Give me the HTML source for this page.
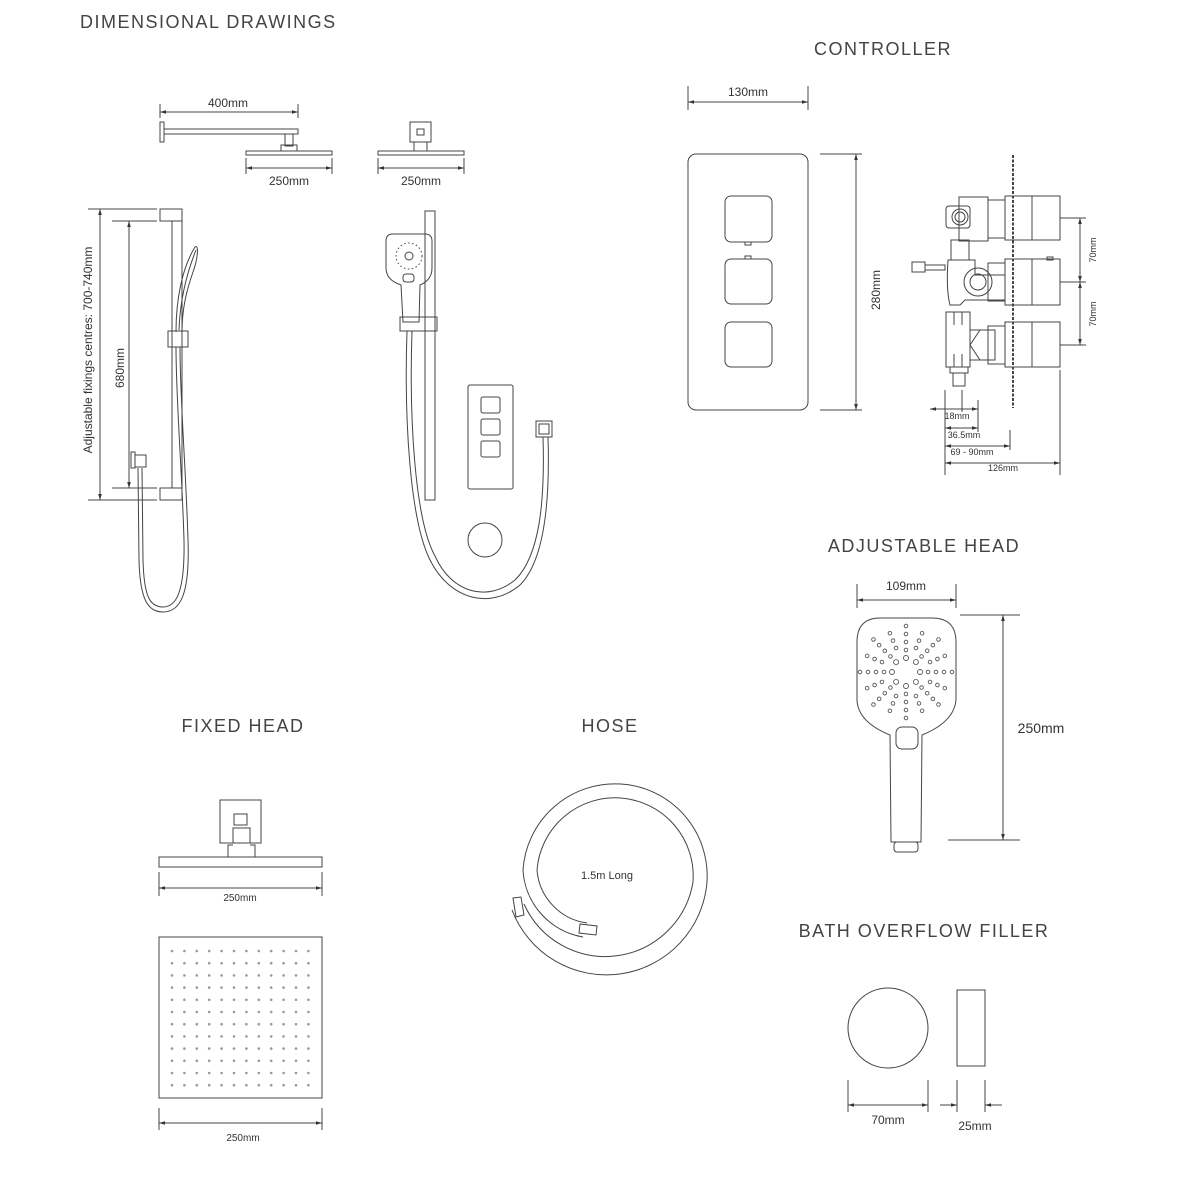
<!DOCTYPE html>
<html><head><meta charset="utf-8"><style>
html,body{margin:0;padding:0;background:#fff}
svg{display:block}
text{font-family:"Liberation Sans",sans-serif;fill:#333}
.t{font-size:18px;letter-spacing:1.5px;fill:#444}
.d{font-size:12px}
.s{font-size:10px}
</style></head><body>
<svg width="1200" height="1200" viewBox="0 0 1200 1200" xmlns="http://www.w3.org/2000/svg">
<defs>
<marker id="a" viewBox="0 0 10 10" refX="10" refY="5" markerWidth="6" markerHeight="6" orient="auto-start-reverse"><path d="M0,2 L10,5 L0,8z" fill="#333"/></marker>
<g id="row">
<circle cx="172" cy="0" r="1.3"/><circle cx="184.4" cy="0" r="1.3"/><circle cx="196.8" cy="0" r="1.3"/><circle cx="209.2" cy="0" r="1.3"/><circle cx="221.6" cy="0" r="1.3"/><circle cx="234" cy="0" r="1.3"/><circle cx="246.4" cy="0" r="1.3"/><circle cx="258.8" cy="0" r="1.3"/><circle cx="271.2" cy="0" r="1.3"/><circle cx="283.6" cy="0" r="1.3"/><circle cx="296" cy="0" r="1.3"/><circle cx="308.4" cy="0" r="1.3"/>
</g>
<g id="spoke"><circle cx="0" cy="-14" r="2.5"/><circle cx="0" cy="-22" r="1.8"/><circle cx="0" cy="-30" r="1.8"/><circle cx="0" cy="-38" r="1.8"/><circle cx="0" cy="-46" r="1.8"/></g>
<g id="sp2"><circle cx="0" cy="-26" r="1.8"/><circle cx="0" cy="-34" r="1.8"/><circle cx="0" cy="-42" r="1.8"/></g>
</defs>
<g fill="none" stroke="#444" stroke-width="1">
<line x1="160" y1="112" x2="298" y2="112" marker-start="url(#a)" marker-end="url(#a)"/>
<line x1="160" y1="104" x2="160" y2="118"/><line x1="298" y1="104" x2="298" y2="118"/>
<rect x="160" y="122" width="4" height="20"/>
<rect x="164" y="129" width="134" height="5"/>
<rect x="285" y="134" width="8" height="12"/>
<rect x="281" y="145" width="16" height="6"/>
<rect x="246" y="151" width="86" height="4"/>
<line x1="246" y1="168" x2="332" y2="168" marker-start="url(#a)" marker-end="url(#a)"/>
<line x1="246" y1="158" x2="246" y2="174"/><line x1="332" y1="158" x2="332" y2="174"/>
<rect x="410" y="122" width="21" height="20"/>
<rect x="417" y="129" width="7" height="6"/>
<rect x="414" y="142" width="13" height="9"/>
<rect x="378" y="151" width="86" height="4"/>
<line x1="378" y1="168" x2="464" y2="168" marker-start="url(#a)" marker-end="url(#a)"/>
<line x1="378" y1="158" x2="378" y2="174"/><line x1="464" y1="158" x2="464" y2="174"/>
<line x1="88" y1="209" x2="157" y2="209"/><line x1="112" y1="221" x2="157" y2="221"/>
<line x1="112" y1="488" x2="157" y2="488"/><line x1="88" y1="500" x2="157" y2="500"/>
<line x1="100" y1="209" x2="100" y2="500" marker-start="url(#a)" marker-end="url(#a)"/>
<line x1="129" y1="221" x2="129" y2="488" marker-start="url(#a)" marker-end="url(#a)"/>
<rect x="160" y="209" width="22" height="12"/>
<rect x="172" y="221" width="10" height="267"/>
<rect x="160" y="488" width="22" height="12"/>
<path d="M176,332 C176,300 182,268 195,247 C199,244 198,258 193,272 C186,292 182,310 182,332"/>
<path d="M179,330 C180,300 186,275 196,250"/>
<rect x="168" y="331" width="20" height="16"/>
<rect x="131" y="452" width="4" height="16"/><rect x="135" y="455" width="11" height="12"/>
<path d="M138,468 L139,560 C140,600 148,612 163,612 C180,612 190,595 188,540 C186,470 180,400 180,347"/>
<path d="M142,468 L143,560 C144,597 150,607 163,607 C176,607 185,593 184,540 C182,470 176,400 176,347"/>
<rect x="425" y="211" width="10" height="289"/>
<path d="M393,234 L425,234 Q432,234 432,241 L432,268 Q432,280 420,285 L419,322 L403,322 L401,285 Q386,280 386,268 L386,241 Q386,234 393,234z"/>
<circle cx="409" cy="256" r="13" stroke-dasharray="1.5 2.5"/>
<circle cx="409" cy="256" r="4"/>
<rect x="403" y="274" width="11" height="8" rx="3"/>
<rect x="400" y="317" width="37" height="14"/>
<path d="M407,331 C404,420 410,520 430,560 C450,600 490,610 520,585 C545,560 550,500 548,437"/>
<path d="M412,331 C409,420 415,520 435,556 C452,594 488,602 515,580 C540,556 545,500 543,437"/>
<rect x="536" y="421" width="16" height="16"/><rect x="539" y="424" width="10" height="10"/>
<rect x="468" y="385" width="45" height="104" rx="2"/>
<rect x="481" y="397" width="19" height="16" rx="2"/>
<rect x="481" y="419" width="19" height="16" rx="2"/>
<rect x="481" y="441" width="19" height="16" rx="2"/>
<circle cx="485" cy="540" r="17"/>
<line x1="688" y1="102" x2="808" y2="102" marker-start="url(#a)" marker-end="url(#a)"/>
<line x1="688" y1="86" x2="688" y2="110"/><line x1="808" y1="86" x2="808" y2="110"/>
<rect x="688" y="154" width="120" height="256" rx="8"/>
<rect x="725" y="196" width="47" height="46" rx="6"/>
<rect x="725" y="259" width="47" height="45" rx="6"/>
<rect x="725" y="322" width="47" height="45" rx="6"/>
<rect x="745" y="242" width="6" height="3"/><rect x="745" y="256" width="6" height="3"/>
<line x1="820" y1="154" x2="862" y2="154"/><line x1="820" y1="410" x2="862" y2="410"/>
<line x1="856" y1="154" x2="856" y2="410" marker-start="url(#a)" marker-end="url(#a)"/>
<line x1="1013" y1="155" x2="1013" y2="408" stroke-dasharray="3 1.5" stroke-width="2"/>
<rect x="1005" y="196" width="55" height="44"/><line x1="1032" y1="196" x2="1032" y2="240"/>
<rect x="1005" y="259" width="55" height="46"/><line x1="1032" y1="259" x2="1032" y2="305"/>
<rect x="1005" y="322" width="55" height="45"/><line x1="1032" y1="322" x2="1032" y2="367"/>
<rect x="1047" y="257" width="6" height="3"/>
<rect x="988" y="200" width="17" height="38"/><rect x="988" y="263" width="17" height="38"/><rect x="988" y="326" width="17" height="38"/>
<rect x="959" y="197" width="29" height="44"/>
<rect x="946" y="206" width="24" height="22" rx="3"/><circle cx="960" cy="217" r="8"/><circle cx="960" cy="217" r="5"/>
<rect x="951" y="240" width="18" height="20"/>
<path d="M948,260 L975,260 L975,275 L1005,275 L1005,300 L975,300 L965,300 L960,305 L950,305 Q946,290 948,260z"/>
<circle cx="978" cy="282" r="14"/><circle cx="978" cy="282" r="8"/>
<path d="M912,262 L925,262 L925,272 L912,272z M925,265 L945,265 L945,270 L925,270"/>
<rect x="946" y="312" width="24" height="55"/>
<line x1="954" y1="312" x2="954" y2="325"/><line x1="962" y1="312" x2="962" y2="325"/>
<line x1="954" y1="354" x2="954" y2="367"/><line x1="962" y1="354" x2="962" y2="367"/>
<path d="M970,330 L980,330 L970,345 L980,360 L970,360 M980,330 L995,330 L995,360 L980,360"/>
<rect x="950" y="367" width="18" height="6"/><rect x="953" y="373" width="12" height="13"/>
<line x1="1060" y1="218" x2="1086" y2="218"/><line x1="1060" y1="282" x2="1086" y2="282"/><line x1="1060" y1="345" x2="1086" y2="345"/>
<line x1="1080" y1="218" x2="1080" y2="282" marker-start="url(#a)" marker-end="url(#a)"/>
<line x1="1080" y1="282" x2="1080" y2="345" marker-start="url(#a)" marker-end="url(#a)"/>
<line x1="930" y1="409" x2="978" y2="409" marker-start="url(#a)" marker-end="url(#a)"/>
<line x1="945" y1="428" x2="978" y2="428" marker-start="url(#a)" marker-end="url(#a)"/>
<line x1="945" y1="446" x2="1010" y2="446" marker-start="url(#a)" marker-end="url(#a)"/>
<line x1="945" y1="463" x2="1060" y2="463" marker-start="url(#a)" marker-end="url(#a)"/>
<line x1="945" y1="390" x2="945" y2="475"/><line x1="962" y1="390" x2="962" y2="412"/>
<line x1="978" y1="400" x2="978" y2="432"/><line x1="1010" y1="430" x2="1010" y2="450"/>
<line x1="1060" y1="370" x2="1060" y2="475"/>
<line x1="857" y1="600" x2="956" y2="600" marker-start="url(#a)" marker-end="url(#a)"/>
<line x1="857" y1="584" x2="857" y2="608"/><line x1="956" y1="584" x2="956" y2="608"/>
<line x1="960" y1="615" x2="1020" y2="615"/><line x1="948" y1="840" x2="1020" y2="840"/>
<line x1="1003" y1="615" x2="1003" y2="840" marker-start="url(#a)" marker-end="url(#a)"/>
<path d="M880,618 L932,618 Q956,618 956,642 L956,700 Q954,722 922,735 L921,842 L891,842 L890,735 Q858,722 857,700 L857,642 Q857,618 880,618z"/>
<rect x="896" y="727" width="22" height="22" rx="6"/>
<rect x="894" y="842" width="24" height="10" rx="3"/>
<rect x="220" y="800" width="41" height="43"/>
<rect x="234" y="814" width="13" height="11"/>
<rect x="233" y="828" width="17" height="15"/>
<path d="M228,857 L228,845 L233,845 M250,845 L255,845 L255,857"/>
<rect x="159" y="857" width="163" height="10"/>
<line x1="159" y1="872" x2="159" y2="896"/><line x1="322" y1="872" x2="322" y2="896"/>
<line x1="159" y1="888" x2="322" y2="888" marker-start="url(#a)" marker-end="url(#a)"/>
<rect x="159" y="937" width="163" height="161"/>
<line x1="159" y1="1108" x2="159" y2="1130"/><line x1="322" y1="1108" x2="322" y2="1130"/>
<line x1="159" y1="1123" x2="322" y2="1123" marker-start="url(#a)" marker-end="url(#a)"/>
<path d="M512,910 A101 101 0 0 0 707,882 A92 92 0 0 0 523,870 A72 72 0 0 0 583,937"/>
<path d="M524,904 A89 89 0 0 0 693,882 A78 78 0 0 0 537,870 A58 58 0 0 0 587,923"/>
<path d="M513,898 L521,897 L524,915 L516,917z"/>
<path d="M580,924 L597,926 L596,935 L579,933z"/>
<circle cx="888" cy="1028" r="40"/>
<rect x="957" y="990" width="28" height="76"/>
<line x1="848" y1="1080" x2="848" y2="1112"/><line x1="928" y1="1080" x2="928" y2="1112"/>
<line x1="848" y1="1105" x2="928" y2="1105" marker-start="url(#a)" marker-end="url(#a)"/>
<line x1="957" y1="1080" x2="957" y2="1112"/><line x1="985" y1="1080" x2="985" y2="1112"/>
<line x1="940" y1="1105" x2="957" y2="1105" marker-end="url(#a)"/>
<line x1="1002" y1="1105" x2="985" y2="1105" marker-end="url(#a)"/>
</g>
<text class="t" x="80" y="28">DIMENSIONAL DRAWINGS</text>
<text class="t" x="883" y="55" text-anchor="middle">CONTROLLER</text>
<text class="t" x="924" y="552" text-anchor="middle">ADJUSTABLE HEAD</text>
<text class="t" x="243" y="732" text-anchor="middle">FIXED HEAD</text>
<text class="t" x="610" y="732" text-anchor="middle">HOSE</text>
<text class="t" x="924" y="937" text-anchor="middle">BATH OVERFLOW FILLER</text>
<text class="d" x="228" y="107" text-anchor="middle">400mm</text>
<text class="d" x="289" y="185" text-anchor="middle">250mm</text>
<text class="d" x="421" y="185" text-anchor="middle">250mm</text>
<text class="d" transform="translate(92,350) rotate(-90)" text-anchor="middle">Adjustable fixings centres: 700-740mm</text>
<text class="d" transform="translate(124,368) rotate(-90)" text-anchor="middle">680mm</text>
<text class="d" x="748" y="96" text-anchor="middle">130mm</text>
<text class="d" transform="translate(880,290) rotate(-90)" text-anchor="middle">280mm</text>
<text class="s" transform="translate(1096,250) rotate(-90)" text-anchor="middle" style="font-size:9px">70mm</text>
<text class="s" transform="translate(1096,314) rotate(-90)" text-anchor="middle" style="font-size:9px">70mm</text>
<text class="s" x="957" y="419" text-anchor="middle" style="font-size:9px">18mm</text>
<text class="s" x="964" y="438" text-anchor="middle" style="font-size:9px">36.5mm</text>
<text class="s" x="972" y="455" text-anchor="middle" style="font-size:9px">69 - 90mm</text>
<text class="s" x="1003" y="471" text-anchor="middle" style="font-size:9px">126mm</text>
<text class="d" x="906" y="590" text-anchor="middle">109mm</text>
<text class="d" x="1041" y="733" text-anchor="middle" style="font-size:14px">250mm</text>
<text class="s" x="240" y="901" text-anchor="middle">250mm</text>
<text class="s" x="243" y="1141" text-anchor="middle">250mm</text>
<text class="s" x="607" y="879" text-anchor="middle" style="font-size:11px">1.5m Long</text>
<text class="d" x="888" y="1124" text-anchor="middle">70mm</text>
<text class="d" x="975" y="1130" text-anchor="middle">25mm</text>
<g fill="#999">
<use href="#row" y="951"/><use href="#row" y="963.2"/><use href="#row" y="975.4"/><use href="#row" y="987.6"/><use href="#row" y="999.8"/><use href="#row" y="1012"/><use href="#row" y="1024.2"/><use href="#row" y="1036.4"/><use href="#row" y="1048.6"/><use href="#row" y="1060.8"/><use href="#row" y="1073"/><use href="#row" y="1085.2"/>
</g>
<g fill="none" stroke="#555" stroke-width="0.9" transform="translate(906,672)">
<use href="#spoke"/>
<use href="#spoke" transform="rotate(45)"/><use href="#spoke" transform="rotate(90)"/><use href="#spoke" transform="rotate(135)"/><use href="#spoke" transform="rotate(180)"/><use href="#spoke" transform="rotate(225)"/><use href="#spoke" transform="rotate(270)"/><use href="#spoke" transform="rotate(315)"/>
<use href="#sp2" transform="rotate(22.5)"/><use href="#sp2" transform="rotate(67.5)"/><use href="#sp2" transform="rotate(112.5)"/><use href="#sp2" transform="rotate(157.5)"/><use href="#sp2" transform="rotate(202.5)"/><use href="#sp2" transform="rotate(247.5)"/><use href="#sp2" transform="rotate(292.5)"/><use href="#sp2" transform="rotate(337.5)"/>
</g>
</svg>
</body></html>
